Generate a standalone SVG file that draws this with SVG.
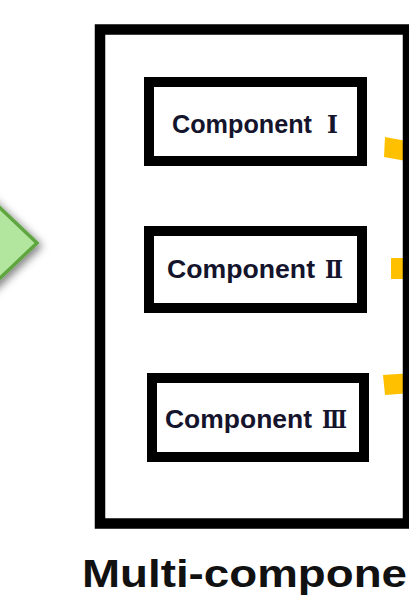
<svg xmlns="http://www.w3.org/2000/svg" width="409" height="597" viewBox="0 0 409 597">
  <defs>
    <filter id="shadow" x="-50%" y="-50%" width="200%" height="200%">
      <feGaussianBlur in="SourceAlpha" stdDeviation="4"/>
      <feOffset dx="3" dy="3" result="blur"/>
      <feFlood flood-color="#000" flood-opacity="0.5"/>
      <feComposite in2="blur" operator="in"/>
      <feMerge>
        <feMergeNode/>
        <feMergeNode in="SourceGraphic"/>
      </feMerge>
    </filter>
  </defs>
  <style>
    .frame { fill: none; stroke: #000; stroke-width: 10.5; }
    .box { fill: #fff; stroke: #000; stroke-width: 10; }
    .label { font-family: "Liberation Sans", sans-serif; font-weight: bold; font-size: 26px; fill: #14142c; }
    .num { font-family: "DejaVu Serif", "Liberation Serif", serif; font-weight: bold; font-size: 25px; fill: #14142c; }
    .title { font-family: "Liberation Sans", sans-serif; font-weight: bold; font-size: 39px; fill: #111; }
    .link { fill: #FFC000; }
  </style>

  <rect width="409" height="597" fill="#fff"/>

  <!-- green input arrow head on the left -->
  <g id="input-arrow">
    <polygon points="-40,170 37,243 -40,316" fill="#B2E59E" stroke="#5FA540" stroke-width="3.5" stroke-linejoin="miter" filter="url(#shadow)"/>
  </g>

  <!-- gold links leaving the components on the right -->
  <g id="connectors">
    <polygon class="link" points="385,137 412,142 412,162 384,157"/>
    <polygon class="link" points="391,258 412,258 412,279 391,279"/>
    <polygon class="link" points="383,375 412,373 412,393 385,395"/>
  </g>

  <!-- outer multi-component container -->
  <g id="container">
    <rect class="frame" x="100" y="29.5" width="308" height="494"/>
  </g>

  <g id="component-1">
    <rect class="box" x="149" y="82" width="213" height="79"/>
    <text class="label" x="172" y="133" textLength="140" lengthAdjust="spacingAndGlyphs">Component</text>
    <text class="num" x="327" y="133" textLength="11" lengthAdjust="spacingAndGlyphs">Ⅰ</text>
  </g>

  <g id="component-2">
    <rect class="box" x="149" y="231" width="213" height="77"/>
    <text class="label" x="167" y="278" textLength="148" lengthAdjust="spacingAndGlyphs">Component</text>
    <text class="num" x="325" y="278" textLength="18" lengthAdjust="spacingAndGlyphs">Ⅱ</text>
  </g>

  <g id="component-3">
    <rect class="box" x="152" y="378" width="212" height="79"/>
    <text class="label" x="165" y="428" textLength="147" lengthAdjust="spacingAndGlyphs">Component</text>
    <text class="num" x="322" y="428" textLength="25" lengthAdjust="spacingAndGlyphs">Ⅲ</text>
  </g>

  <g id="caption">
    <text class="title" x="82" y="587" textLength="325" lengthAdjust="spacingAndGlyphs">Multi-compone</text>
  </g>
</svg>
